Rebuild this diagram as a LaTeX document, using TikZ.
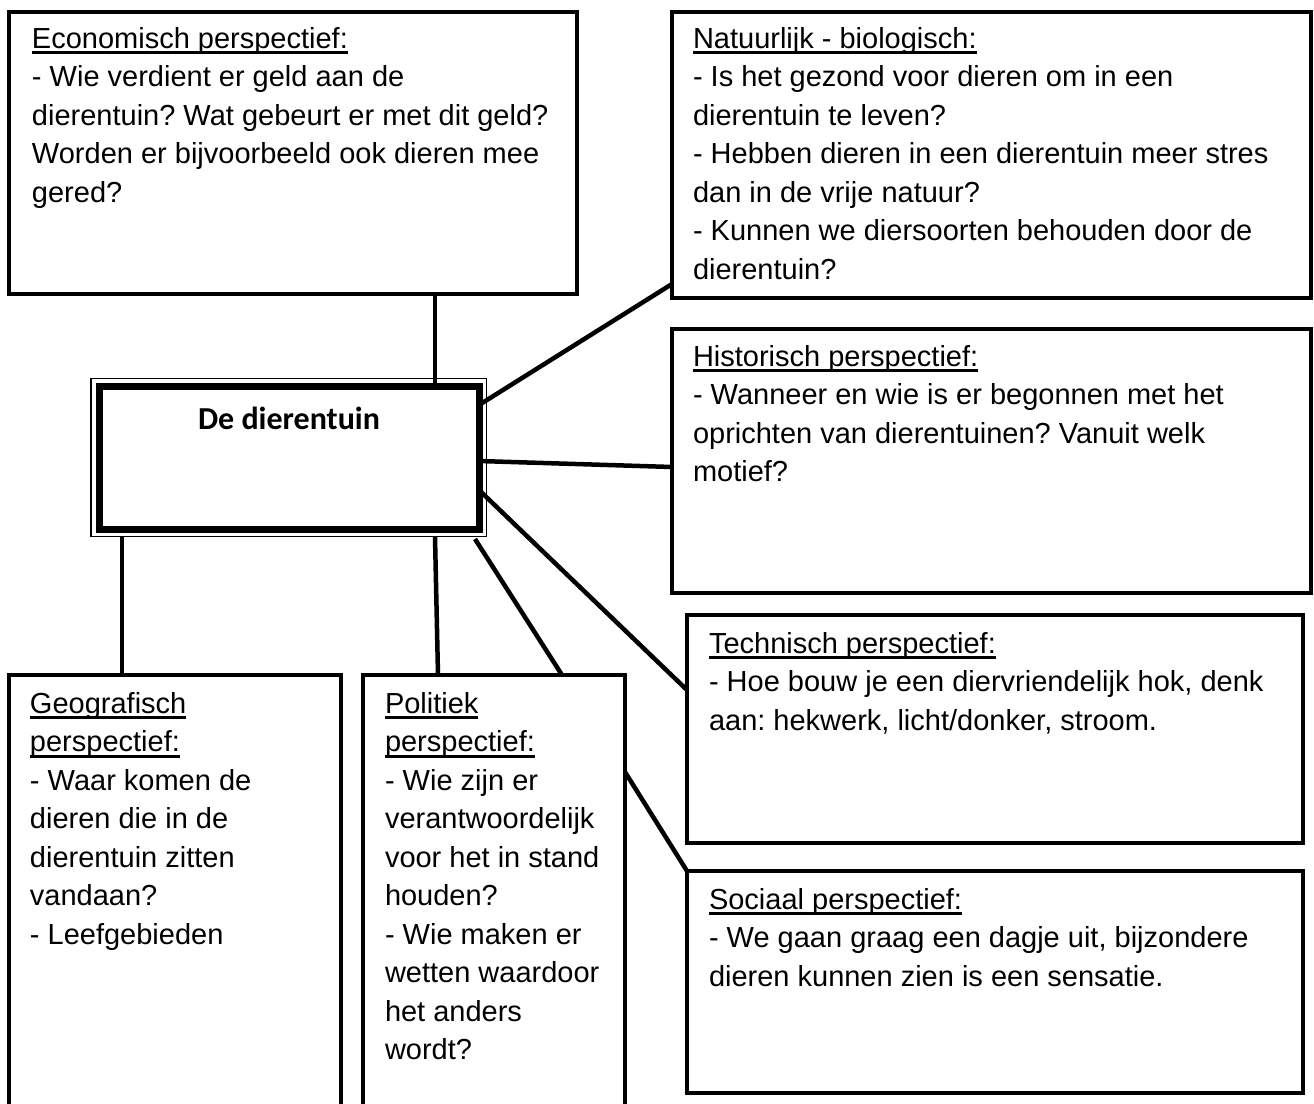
\documentclass[tikz,border=0pt]{standalone}
\usepackage{fontspec}
\setmainfont{Liberation Sans}
\newfontfamily\carlito{Carlito}
\usetikzlibrary{fit}
\newcommand\wul[1]{\leavevmode\setbox0\hbox{#1}\rlap{\rule[-3pt]{\wd0}{1.4pt}}\box0}
\newcommand\btext[1]{\begin{minipage}[t]{330pt}\raggedright\frenchspacing\fontsize{14.5pt}{19.25pt}\selectfont #1\end{minipage}}
\begin{document}
\begin{tikzpicture}[x=0.5pt,y=-0.5pt,
  pbox/.style={draw, line width=1.75pt, inner sep=0pt, outer sep=0pt, rectangle},
  link/.style={line width=2.25pt},
  txt/.style={anchor=base west, inner sep=0pt, outer sep=0pt}]
\useasboundingbox (0,0) rectangle (1314,1104);
\clip (0,0) rectangle (1314,1104);
\fill[white] (0,0) rectangle (1314,1104);

% boxes
\node[pbox, fit={(9,12) (577,294)}] (econ) {};
\node[pbox, fit={(672,12) (1311,298)}] (nat) {};
\node[pbox, fit={(672,329) (1311,593)}] (hist) {};
\node[pbox, fit={(687,615) (1303,843)}] (tech) {};
\node[pbox, fit={(687,871) (1303,1093)}] (soc) {};
\node[pbox, fit={(9,675) (341,1120)}] (geo) {};
\node[pbox, fit={(363,675) (625,1120)}] (pol) {};
\node[pbox, line width=0.75pt, fit={(91,378.5) (486.5,536.5)}] (ctr) {};
\node[pbox, line width=3.5pt, fit={(99,386) (479,529)}] (ctrin) {};

% connectors
\coordinate (a1) at (435,0);
\draw[link] (econ.south -| a1) -- (ctrin.north -| a1);
\coordinate (n1) at (0,284);
\coordinate (n2) at (0,405);
\draw[link] (nat.west |- n1) -- (ctrin.east |- n2);
\coordinate (h1) at (0,461);
\coordinate (h2) at (0,467);
\draw[link] (ctrin.east |- h1) -- (hist.west |- h2);
\coordinate (t1) at (0,490);
\coordinate (t2) at (0,690);
\draw[link] (ctrin.east |- t1) -- (tech.west |- t2);
\coordinate (g1) at (122,0);
\draw[link] (ctr.south -| g1) -- (geo.north -| g1);
\coordinate (p1) at (435,0);
\coordinate (p2) at (438,0);
\draw[link] (ctr.south -| p1) -- (pol.north -| p2);
\coordinate (e1) at (475,539);
\coordinate (e2) at (562,0);
\draw[link] (e1) -- (pol.north -| e2);
\coordinate (s1) at (0,772);
\draw[link] (pol.east |- s1) -- (soc.north west);

% texts
\node[font=\carlito\bfseries\fontsize{16pt}{19pt}\selectfont, anchor=base, inner sep=0pt] (ctrT) at (289,429) {De dierentuin};

\node[txt] (econT) at (32,48) {\btext{\wul{Economisch perspectief:}\\
- Wie verdient er geld aan de\\
dierentuin? Wat gebeurt er met dit geld?\\
Worden er bijvoorbeeld ook dieren mee\\
gered?}};

\node[txt] (natT) at (693,48) {\btext{\wul{Natuurlijk - biologisch:}\\
- Is het gezond voor dieren om in een\\
dierentuin te leven?\\
- Hebben dieren in een dierentuin meer stres\\
dan in de vrije natuur?\\
- Kunnen we diersoorten behouden door de\\
dierentuin?}};

\node[txt] (histT) at (693,366) {\btext{\wul{Historisch perspectief:}\\
- Wanneer en wie is er begonnen met het\\
oprichten van dierentuinen? Vanuit welk\\
motief?}};

\node[txt] (techT) at (709,653) {\btext{\wul{Technisch perspectief:}\\
- Hoe bouw je een diervriendelijk hok, denk\\
aan: hekwerk, licht/donker, stroom.}};

\node[txt] (socT) at (709,909) {\btext{\wul{Sociaal perspectief:}\\
- We gaan graag een dagje uit, bijzondere\\
dieren kunnen zien is een sensatie.}};

\node[txt] (geoT) at (30,713) {\btext{\wul{Geografisch}\\
\wul{perspectief:}\\
- Waar komen de\\
dieren die in de\\
dierentuin zitten\\
vandaan?\\
- Leefgebieden}};

\node[txt] (polT) at (385,713) {\btext{\wul{Politiek}\\
\wul{perspectief:}\\
- Wie zijn er\\
verantwoordelijk\\
voor het in stand\\
houden?\\
- Wie maken er\\
wetten waardoor\\
het anders\\
wordt?}};
\end{tikzpicture}
\end{document}
